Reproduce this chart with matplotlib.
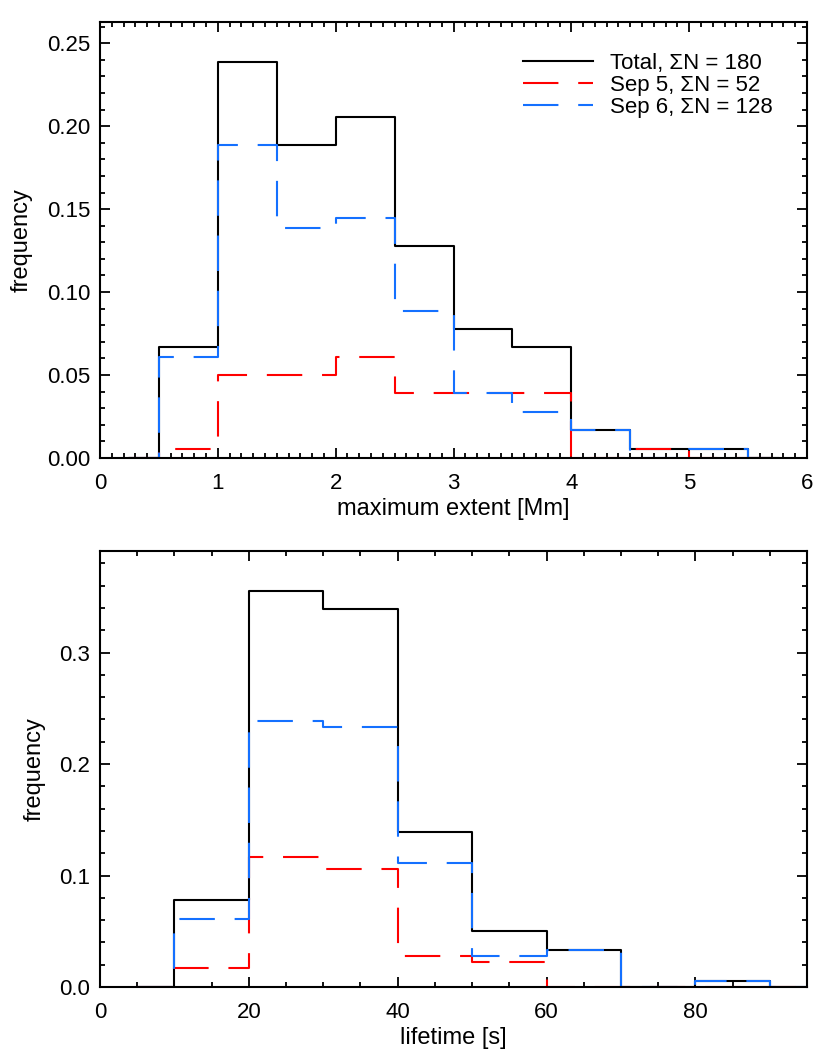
import numpy as np
import matplotlib
matplotlib.use("Agg")
import matplotlib.pyplot as plt
from matplotlib.ticker import MultipleLocator, FormatStrFormatter

plt.rcParams['font.family'] = ['Liberation Sans', 'DejaVu Sans']

n_total = 180

# maximum extent histograms (counts per 0.5 Mm bin, bin centres)
ext_centres = [0.25, 0.75, 1.25, 1.75, 2.25, 2.75, 3.25, 3.75, 4.25, 4.75, 5.25, 5.75]
ext_total = [0, 12, 43, 34, 37, 23, 14, 12, 3, 1, 1, 0]
ext_sep5 = [0, 1, 9, 9, 11, 7, 7, 7, 0, 1, 0, 0]
ext_sep6 = [0, 11, 34, 25, 26, 16, 7, 5, 3, 0, 1, 0]

# lifetime histograms (counts per 10 s bin, bin centres)
life_centres = [5, 15, 25, 35, 45, 55, 65, 75, 85, 95]
life_total = [0, 14, 64, 61, 25, 9, 6, 0, 1, 0]
life_sep5 = [0, 3, 21, 19, 5, 4, 0, 0, 0, 0]
life_sep6 = [0, 11, 43, 42, 20, 5, 6, 0, 1, 0]

labels = ['Total, ΣN = 180', 'Sep 5, ΣN = 52', 'Sep 6, ΣN = 128']
red = '#ff0000'
blue = '#1470ff'
dash = (17, 9.5)
fs = 16
fs_lab = 17

fig = plt.figure(figsize=(8.3, 10.54), dpi=100)
ax1 = fig.add_axes([100/830, 1-458/1054, 707/830, 436/1054])
ax2 = fig.add_axes([100/830, 1-987/1054, 707/830, 436/1054])


def draw(ax, x, tot, s5, s6):
    tot = np.array(tot) / n_total
    s5 = np.array(s5) / n_total
    s6 = np.array(s6) / n_total
    ax.step(x, tot, where='mid', color='k', lw=1.5, label=labels[0])
    ax.step(x, s5, where='mid', color=red, lw=1.5, dashes=dash, label=labels[1])
    ax.step(x, s6, where='mid', color=blue, lw=1.5, dashes=dash, label=labels[2])
    ax.set_ylim(0, tot.max() * 1.1)
    ax.tick_params(which='both', direction='in', top=True, right=True, labelsize=fs, width=1.3)
    ax.tick_params(which='major', length=7)
    ax.tick_params(which='minor', length=3.5)
    ax.tick_params(axis='x', which='major', pad=11)
    ax.tick_params(axis='y', which='major', pad=7)
    for s in ax.spines.values():
        s.set_linewidth(1.5)
    ax.set_ylabel('frequency', fontsize=fs_lab, labelpad=10)


draw(ax1, ext_centres, ext_total, ext_sep5, ext_sep6)
ax1.set_xlim(0, 6)
ax1.xaxis.set_major_locator(MultipleLocator(1))
ax1.xaxis.set_minor_locator(MultipleLocator(0.1))
ax1.yaxis.set_major_locator(MultipleLocator(0.05))
ax1.yaxis.set_minor_locator(MultipleLocator(0.01))
ax1.yaxis.set_major_formatter(FormatStrFormatter('%.2f'))
ax1.set_xlabel('maximum extent [Mm]', fontsize=fs_lab, labelpad=3)
ax1.legend(loc='upper left', bbox_to_anchor=(0.5856, 0.950), frameon=False, fontsize=fs,
           handlelength=3.15, handletextpad=0.75, labelspacing=0.05, borderaxespad=0)

draw(ax2, life_centres, life_total, life_sep5, life_sep6)
ax2.set_xlim(0, 95)
ax2.xaxis.set_major_locator(MultipleLocator(20))
ax2.xaxis.set_minor_locator(MultipleLocator(5))
ax2.yaxis.set_major_locator(MultipleLocator(0.1))
ax2.yaxis.set_minor_locator(MultipleLocator(0.02))
ax2.yaxis.set_major_formatter(FormatStrFormatter('%.1f'))
ax2.set_xlabel('lifetime [s]', fontsize=fs_lab, labelpad=3)

plt.savefig('out.png')
